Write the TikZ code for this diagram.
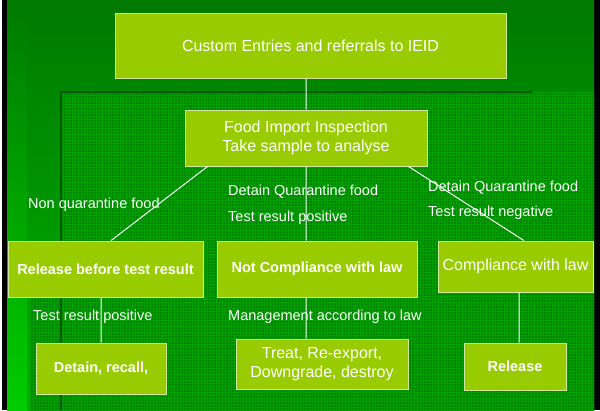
\documentclass[tikz,border=0pt]{standalone}
\usepackage{fontspec}
\setmainfont{Liberation Sans}
\usetikzlibrary{patterns,positioning,backgrounds}
\definecolor{leaf}{HTML}{99CC00}
\definecolor{leafline}{HTML}{D2E8A0}
\definecolor{slide}{HTML}{007A00}
\definecolor{slidelow}{HTML}{00B000}
\definecolor{strip}{HTML}{00CC00}
\definecolor{panel}{HTML}{008600}
\definecolor{panelgrid}{HTML}{00A000}
\definecolor{paneledge}{HTML}{005C00}
\tikzset{
  box/.style={draw=leafline,fill=leaf,line width=0.8pt,text=white,align=center,
    inner sep=0pt,font=\fontsize{16}{19.5}\selectfont},
  boldbox/.style={box,font=\fontsize{14.5}{17}\selectfont\bfseries},
  boxsize/.style args={#1,#2}{minimum width=#1pt,minimum height=#2pt},
  lbl/.style={anchor=west,text=white,inner sep=0pt,text height=10.5pt,text depth=3pt,
    font=\fontsize{14.5}{17}\selectfont},
  wire/.style={draw=white,line width=1pt}
}
\begin{document}
\begin{tikzpicture}[x=1pt,y=-1pt]
  \useasboundingbox (0,0) rectangle (600,410);
  % slide background
  \fill[black] (0,0) rectangle (600,410);
  \fill[white] (0,0) rectangle (1.5,410);
  \shade[top color=slide,bottom color=slidelow] (7,0) rectangle (594,410);
  \shade[top color=slide,bottom color=strip] (7,0) rectangle (27,410);
  \fill[panel] (60,92) rectangle (594,410);
  \fill[pattern=grid,pattern color=panelgrid] (60,92) rectangle (594,410);
  \fill[panel] (30,297) rectangle (60,410);
  \fill[pattern=grid,pattern color=panelgrid] (30,297) rectangle (60,410);
  \draw[paneledge,line width=2pt] (61,410) -- (61,92) -- (532,92);

  \node[box,boxsize={391,65}] (entry) at (310.5,45.5) {Custom Entries and referrals to IEID};
  \node[box,boxsize={242,56}] (insp) at (306,138) {Food Import Inspection\\Take sample to analyse};

  \node[boldbox,boxsize={195,56}] (early) at (105.5,269) {Release before test result};
  \node[boldbox,boxsize={200,56}] (notok) at (317,269) {Not Compliance with law};
  \node[box,boxsize={155,51}] (ok) at (515.5,266.5) {Compliance with law};

  \node[boldbox,boxsize={130,51}] (detain) at (101,368.5) {Detain, recall,};
  \node[box,boxsize={172,50}] (treat) at (322,364) {Treat, Re-export,\\Downgrade, destroy};
  \node[boldbox,boxsize={102,47}] (free) at (515,366.5) {Release};

  \path[wire] (insp.north) -- (insp.north |- entry.south)
        (insp.south) -- (insp.south |- notok.north)
        ([xshift=23pt]insp.south west) -- ([xshift=5.5pt]early.north)
        ([xshift=-19pt]insp.south east) -- ([xshift=8.5pt]ok.north)
        (detain.north) -- (detain.north |- early.south)
        (insp.south |- notok.south) -- (insp.south |- treat.north)
        ([xshift=4pt]free.north) -- ([xshift=4pt]free.north |- ok.south);

  \node[lbl] (nq) at (28,205) {Non quarantine food};
  \node[lbl] (dq1) at (228,192) {Detain Quarantine food};
  \node[lbl] (pos1) at (228,218) {Test result positive};
  \node[lbl] (dq2) at (428,188) {Detain Quarantine food};
  \node[lbl] (neg) at (428,213) {Test result negative};
  \node[lbl] (pos2) at (33,317) {Test result positive};
  \node[lbl] (mgmt) at (228,317) {Management according to law};
\end{tikzpicture}
\end{document}
